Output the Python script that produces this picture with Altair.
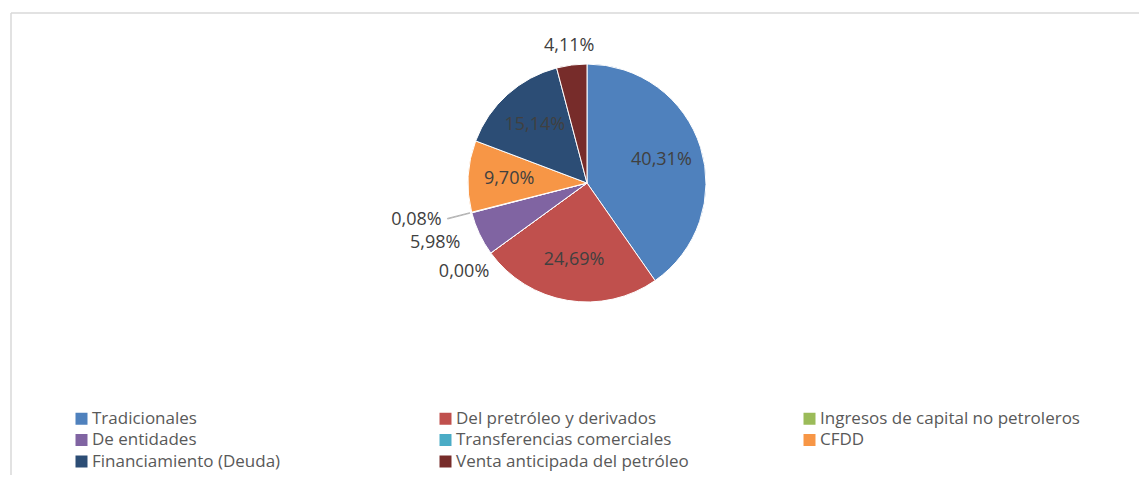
import altair as alt
import pandas as pd

categories = [
    "Tradicionales",
    "Del pretróleo y derivados",
    "Ingresos de capital no petroleros",
    "De entidades",
    "Transferencias comerciales",
    "CFDD",
    "Financiamiento (Deuda)",
    "Venta anticipada del petróleo",
]
values = [40.31, 24.69, 0.00, 5.98, 0.08, 9.70, 15.14, 4.11]
colors = ["#4F81BD", "#C0504D", "#9BBB59", "#8064A2", "#4BACC6", "#F79646", "#2C4D75", "#772C2A"]
# where each data label sits: inside the slice, or one of the outside placements
label_place = ["in", "in", "below", "side", "leader", "in", "in", "top"]

labels = [f"{v:.2f}".replace(".", ",") + "%" for v in values]
df = pd.DataFrame({
    "cat": categories,
    "pct": values,
    "idx": list(range(len(categories))),
    "place": label_place,
    "label": labels,
})
for p in ["in", "below", "side", "leader", "top"]:
    df["label_" + p] = [l if q == p else "" for l, q in zip(labels, label_place)]
df["leader"] = [1 if q == "leader" else 0 for q in label_place]

W, H = 1128, 462
CX, CY = 576, 170
FONT = "Open Sans"

base = alt.Chart(df).encode(
    theta=alt.Theta("pct:Q", stack=True),
    order=alt.Order("idx:Q"),
    x=alt.value(CX),
    y=alt.value(CY),
)

pie = base.mark_arc(outerRadius=119, stroke="white", strokeWidth=1).encode(
    color=alt.Color(
        "cat:N",
        scale=alt.Scale(domain=categories, range=colors),
        sort=categories,
        legend=alt.Legend(
            title=None,
            orient="none",
            direction="horizontal",
            legendX=62,
            legendY=397,
            columns=3,
            gridAlign="all",
            columnPadding=85,
            rowPadding=3.5,
            symbolType="square",
            symbolSize=144,
            symbolStrokeWidth=0,
            labelFont=FONT,
            labelFontSize=17,
            labelColor="#595959",
            labelOffset=2,
            labelLimit=400,
            padding=0,
        ),
    )
)

leader = base.mark_arc(innerRadius=121, outerRadius=144, fillOpacity=0, stroke="#a6a6a6", strokeWidth=0.8).encode(
    strokeOpacity=alt.StrokeOpacity("leader:Q", scale=None)
)

def label_layer(place, radius, align):
    return base.mark_text(radius=radius, align=align, font=FONT, fontSize=18, color="#404040").encode(
        text=f"label_{place}:N"
    )

txt_in = label_layer("in", 78, "center")
txt_top = label_layer("top", 138, "center")
txt_below = label_layer("below", 152, "center")
txt_side = label_layer("side", 140, "right")
txt_leader = label_layer("leader", 150, "right")

one = alt.Data(values=[{"a": 1}])
top_rule = alt.Chart(one).mark_rule(color="#d9d9d9", strokeWidth=1.5).encode(
    x=alt.value(0), x2=alt.value(W), y=alt.value(0)
)
left_rule = alt.Chart(one).mark_rule(color="#d9d9d9", strokeWidth=1.5).encode(
    x=alt.value(0), y=alt.value(0), y2=alt.value(H)
)

chart = alt.layer(
    top_rule, left_rule, pie, leader, txt_in, txt_top, txt_below, txt_side, txt_leader
).properties(
    width=W,
    height=H,
    autosize=alt.AutoSizeParams(type="none"),
    padding={"left": 3, "top": 5, "right": 0, "bottom": 0},
).configure_view(stroke=None)

chart.save("out.html", embed_options={"renderer": "svg", "actions": False})
